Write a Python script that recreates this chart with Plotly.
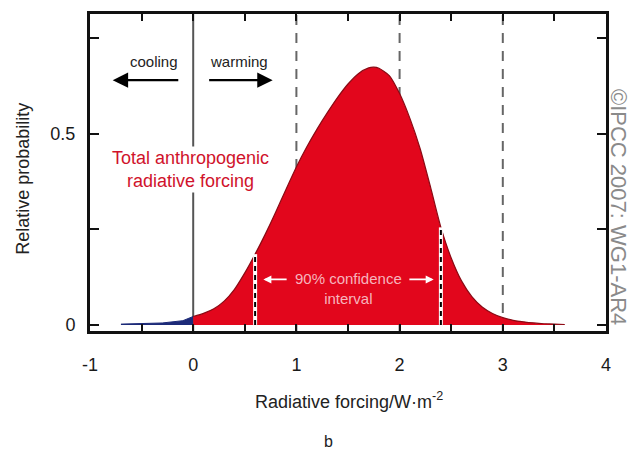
import plotly.graph_objects as go

# ---- data ----
rf_x = [0.0, 0.1, 0.2, 0.3, 0.4, 0.5, 0.6, 0.7, 0.8, 0.9, 1.0, 1.1, 1.2, 1.3, 1.4,
        1.5, 1.6, 1.7, 1.75, 1.8, 1.9, 2.0, 2.1, 2.2, 2.3, 2.4, 2.5, 2.6, 2.7, 2.8,
        2.9, 3.0, 3.1, 3.2, 3.3, 3.4, 3.5, 3.6]
rf_y = [0.022, 0.030, 0.042, 0.062, 0.093, 0.136, 0.185, 0.238, 0.295, 0.355, 0.413,
        0.465, 0.512, 0.555, 0.595, 0.630, 0.657, 0.672, 0.674, 0.671, 0.652, 0.605,
        0.540, 0.460, 0.360, 0.255, 0.175, 0.115, 0.074, 0.047, 0.030, 0.019, 0.012,
        0.008, 0.005, 0.003, 0.002, 0.001]
neg_x = [-0.7, -0.5, -0.3, -0.1, 0.0]
neg_y = [0.002, 0.003, 0.005, 0.011, 0.022]
ci_bounds = [0.6, 2.4]
dashed_lines = [1, 2, 3]
zero_line = [0]
x_ticks = [-1, -0.5, 0, 0.5, 1, 1.5, 2, 2.5, 3, 3.5, 4]
x_ticklabels = ["-1", "", "0", "", "1", "", "2", "", "3", "", "4"]
y_ticks = [0, 0.25, 0.5, 0.75]
y_ticklabels = ["0", "", "0.5", ""]

RED = "#E2061C"
FONT = "Liberation Sans"
fig = go.Figure()

# blue negative tail
fig.add_trace(go.Scatter(x=neg_x, y=neg_y, mode="lines", fill="tozeroy",
                         fillcolor="#1c2a78", line=dict(color="#1c2a78", width=1),
                         hoverinfo="skip", showlegend=False))
# red distribution
fig.add_trace(go.Scatter(x=rf_x, y=rf_y, mode="lines", fill="tozeroy",
                         fillcolor=RED,
                         line=dict(color="#8a0a14", width=1.2, shape="spline",
                                   smoothing=0.6),
                         hoverinfo="skip", showlegend=False))
# confidence bound lines
for b in ci_bounds:
    top = rf_y[rf_x.index(b)]
    fig.add_trace(go.Scatter(x=[b, b], y=[0, top], mode="lines",
                             line=dict(color="white", width=4),
                             hoverinfo="skip", showlegend=False))
    fig.add_trace(go.Scatter(x=[b, b], y=[0, top], mode="lines",
                             line=dict(color="black", width=2, dash="5px,4px"),
                             hoverinfo="skip", showlegend=False))

# vertical reference lines (below traces)
for v in zero_line:
    fig.add_shape(type="line", x0=v, x1=v, y0=0, y1=1, xref="x", yref="paper",
                  line=dict(color="#555555", width=2), layer="below")
for v in dashed_lines:
    fig.add_shape(type="line", x0=v, x1=v, y0=0, y1=1, xref="x", yref="paper",
                  line=dict(color="#666666", width=2, dash="10px,8px"), layer="below")

# text annotations
fig.add_annotation(x=-0.03, y=0.407, xref="x", yref="y",
                   text="Total anthropogenic<br>radiative forcing", showarrow=False,
                   font=dict(family=FONT, size=18, color="#d0122b"),
                   bgcolor="white", align="center")
fig.add_annotation(x=-0.38, y=0.69, xref="x", yref="y", text="cooling",
                   showarrow=False, font=dict(family=FONT, size=15, color="#222"))
fig.add_annotation(x=0.44, y=0.69, xref="x", yref="y", text="warming",
                   showarrow=False, font=dict(family=FONT, size=15, color="#222"))
# cooling / warming arrows
fig.add_annotation(x=-0.78, y=0.64, ax=-0.13, ay=0.64, xref="x", yref="y",
                   axref="x", ayref="y", text="", showarrow=True, arrowhead=2,
                   arrowsize=1.4, arrowwidth=2.2, arrowcolor="black")
fig.add_annotation(x=0.77, y=0.64, ax=0.14, ay=0.64, xref="x", yref="y",
                   axref="x", ayref="y", text="", showarrow=True, arrowhead=2,
                   arrowsize=1.4, arrowwidth=2.2, arrowcolor="black")
# confidence interval text and arrows
fig.add_annotation(x=1.5, y=0.095, xref="x", yref="y",
                   text="90% confidence<br>interval", showarrow=False,
                   font=dict(family=FONT, size=15, color="#f6b4bc"))
fig.add_annotation(x=0.68, y=0.119, ax=0.92, ay=0.119, xref="x", yref="y",
                   axref="x", ayref="y", text="", showarrow=True, arrowhead=2,
                   arrowsize=1, arrowwidth=1.6, arrowcolor="white")
fig.add_annotation(x=2.33, y=0.119, ax=2.08, ay=0.119, xref="x", yref="y",
                   axref="x", ayref="y", text="", showarrow=True, arrowhead=2,
                   arrowsize=1, arrowwidth=1.6, arrowcolor="white")

# axis titles and labels
fig.add_annotation(x=-0.13, y=0.48, xref="paper", yref="paper",
                   text="Relative probability", textangle=-90, showarrow=False,
                   xanchor="center", yanchor="middle",
                   font=dict(family=FONT, size=18, color="#222"))
fig.add_annotation(x=1.51, y=-0.219, xref="x", yref="paper",
                   text="Radiative forcing/W\u00b7m<sup>-2</sup>", showarrow=False,
                   yanchor="middle",
                   font=dict(family=FONT, size=18, color="#222"))
fig.add_annotation(x=1.31, y=-0.35, xref="x", yref="paper", text="b", showarrow=False,
                   yanchor="middle",
                   font=dict(family=FONT, size=16, color="#222"))
fig.add_annotation(x=1.024, y=0.39, xref="paper", yref="paper",
                   text="\u00a9IPCC 2007: WG1-AR4", textangle=90, showarrow=False,
                   xanchor="center", yanchor="middle",
                   font=dict(family=FONT, size=22, color="#8a8a8a"))

fig.update_layout(
    width=632, height=453,
    margin=dict(l=90, r=26, t=11, b=122),
    paper_bgcolor="white", plot_bgcolor="white",
    xaxis=dict(range=[-1, 4], tickvals=x_ticks, ticktext=x_ticklabels,
               ticks="inside", ticklen=7, tickwidth=2, tickcolor="#111",
               showline=True, linewidth=3, linecolor="#111", mirror="ticks",
               showgrid=False, zeroline=False, ticklabelstandoff=15,
               tickfont=dict(family=FONT, size=18, color="#1a1a1a")),
    yaxis=dict(range=[-0.016, 0.813], tickvals=y_ticks, ticktext=y_ticklabels,
               ticks="inside", ticklen=9, tickwidth=2, tickcolor="#111",
               showline=True, linewidth=3, linecolor="#111", mirror="ticks",
               showgrid=False, zeroline=False, ticklabelstandoff=8,
               tickfont=dict(family=FONT, size=18, color="#1a1a1a")),
)

fig.write_html("out.html")
